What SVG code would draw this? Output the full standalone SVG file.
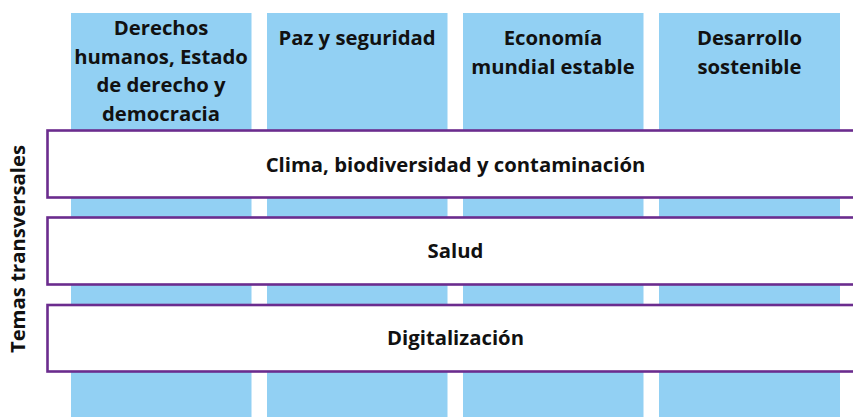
<svg xmlns="http://www.w3.org/2000/svg" width="853" height="417" viewBox="0 0 853 417">
<style>
.col{fill:#92D0F3;}
.band{fill:#FFFFFF;stroke:#6B2C8E;stroke-width:2.6;}
.t{font-family:"Open Sans","Liberation Sans",sans-serif;font-weight:700;font-size:20.3px;fill:#111111;text-anchor:middle;}
</style>
<rect width="853" height="417" fill="#FFFFFF"/>
<g id="col-derechos">
<rect class="col" x="71" y="13" width="180.5" height="410"/>
<text class="t" x="161" y="35">Derechos</text>
<text class="t" x="161" y="63.5">humanos, Estado</text>
<text class="t" x="161" y="92">de derecho y</text>
<text class="t" x="161" y="120.5">democracia</text>
</g>
<g id="col-paz">
<rect class="col" x="267" y="13" width="180.5" height="410"/>
<text class="t" x="357" y="45">Paz y seguridad</text>
</g>
<g id="col-economia">
<rect class="col" x="463" y="13" width="180.5" height="410"/>
<text class="t" x="553" y="45">Economía</text>
<text class="t" x="553" y="74">mundial estable</text>
</g>
<g id="col-desarrollo">
<rect class="col" x="659" y="13" width="181" height="410"/>
<text class="t" x="749.5" y="45">Desarrollo</text>
<text class="t" x="749.5" y="74">sostenible</text>
</g>
<g id="band-clima">
<rect class="band" x="47.5" y="130.5" width="830" height="67"/>
<text class="t" x="455.5" y="171.5">Clima, biodiversidad y contaminación</text>
</g>
<g id="band-salud">
<rect class="band" x="47.5" y="217.5" width="830" height="67"/>
<text class="t" x="455.5" y="257.5">Salud</text>
</g>
<g id="band-digital">
<rect class="band" x="47.5" y="305" width="830" height="66.5"/>
<text class="t" x="455.5" y="345">Digitalización</text>
</g>
<g id="label-temas">
<text class="t" transform="translate(25 249) rotate(-90)">Temas transversales</text>
</g>
<g id="connectors"></g>
</svg>
